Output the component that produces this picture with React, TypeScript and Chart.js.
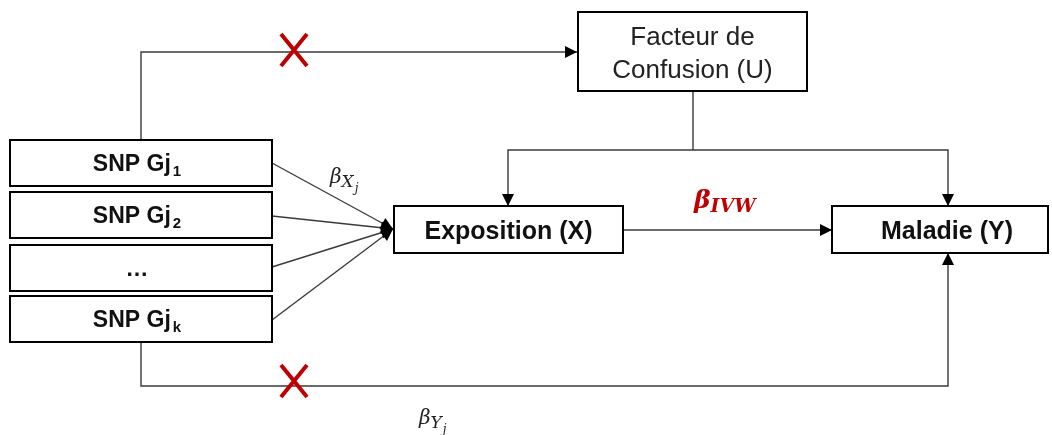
import React, { useEffect, useRef } from "react";
import { Chart, registerables } from "chart.js";

Chart.register(...registerables);

const W = 1052;
const H = 435;

// ---- diagram content ----
const snpLabels = ["SNP Gj", "SNP Gj", "…", "SNP Gj"];
const snpIndex = ["1", "2", "", "k"];
const snpRowY = [163, 215, 268, 319];
const exposureLabel = "Exposition (X)";
const outcomeLabel = "Maladie (Y)";
const confounderLines = ["Facteur de", "Confusion (U)"];

// ---- layout (box extents in diagram units) ----
const snpBox = { x0: 10, x1: 272, h: 46 };
const expBox = { x0: 394, x1: 623, y0: 206, y1: 253 };
const outBox = { x0: 832, x1: 1048, y0: 206, y1: 253 };
const confBox = { x0: 578, x1: 807, y0: 12, y1: 91 };

// connectors
const edgeXs: number[][] = [
  [141, 141, 577],
  [141, 141, 948, 948],
  [693, 508, 508],
  [693, 948, 948],
  [693, 693],
  [623, 832],
  [272, 393],
  [272, 393],
  [272, 393],
  [272, 393],
];
const edgeYs: number[][] = [
  [139, 52, 52],
  [342, 386, 386, 253],
  [150, 150, 206],
  [150, 150, 206],
  [91, 150],
  [230, 230],
  [163, 229],
  [216, 229],
  [267, 229],
  [320, 229],
];
const edgeArrow = [true, true, true, true, false, true, true, true, true, true];
const crossX = [294, 294];
const crossY = [50, 381];

const diagramPlugin = {
  id: "diagram",
  afterDatasetsDraw(chart: any) {
    const ctx: CanvasRenderingContext2D = chart.ctx;
    const sx = chart.scales.x;
    const sy = chart.scales.y;
    const px = (v: number) => sx.getPixelForValue(v);
    const py = (v: number) => sy.getPixelForValue(v);

    // arrowheads
    ctx.save();
    ctx.fillStyle = "#000";
    edgeXs.forEach((xs, i) => {
      if (!edgeArrow[i]) return;
      const n = xs.length;
      const x2 = px(xs[n - 1]);
      const y2 = py(edgeYs[i][n - 1]);
      const x1 = px(xs[n - 2]);
      const y1 = py(edgeYs[i][n - 2]);
      const a = Math.atan2(y2 - y1, x2 - x1);
      const L = 12;
      const hw = 6;
      ctx.beginPath();
      ctx.moveTo(x2, y2);
      ctx.lineTo(x2 - L * Math.cos(a) + hw * Math.sin(a), y2 - L * Math.sin(a) - hw * Math.cos(a));
      ctx.lineTo(x2 - L * Math.cos(a) - hw * Math.sin(a), y2 - L * Math.sin(a) + hw * Math.cos(a));
      ctx.closePath();
      ctx.fill();
    });
    ctx.restore();

    const box = (x0: number, y0: number, x1: number, y1: number) => {
      ctx.save();
      ctx.fillStyle = "#fff";
      ctx.strokeStyle = "#000";
      ctx.lineWidth = 2;
      const X0 = px(x0), Y0 = py(y0), X1 = px(x1), Y1 = py(y1);
      ctx.fillRect(X0, Y0, X1 - X0, Y1 - Y0);
      ctx.strokeRect(X0, Y0, X1 - X0, Y1 - Y0);
      ctx.restore();
    };

    // SNP boxes
    snpRowY.forEach((cy, i) => {
      box(snpBox.x0, cy - snpBox.h / 2, snpBox.x1, cy + snpBox.h / 2);
      ctx.save();
      ctx.fillStyle = "#111";
      ctx.textBaseline = "alphabetic";
      ctx.font = "bold 23px 'Liberation Sans', Arial, sans-serif";
      const main = snpLabels[i];
      const w1 = ctx.measureText(main).width;
      ctx.font = "bold 15px 'Liberation Sans', Arial, sans-serif";
      const w2 = snpIndex[i] ? ctx.measureText(snpIndex[i]).width + 2 : 0;
      const cx = px((snpBox.x0 + snpBox.x1) / 2) - 4;
      const start = cx - (w1 + w2) / 2;
      const base = py(cy) + 8;
      ctx.font = "bold 23px 'Liberation Sans', Arial, sans-serif";
      ctx.fillText(main, start, base);
      if (snpIndex[i]) {
        ctx.font = "bold 15px 'Liberation Sans', Arial, sans-serif";
        ctx.fillText(snpIndex[i], start + w1 + 2, base + 5);
      }
      ctx.restore();
    });

    const centered = (text: string, cx: number, base: number, font: string, color = "#111") => {
      ctx.save();
      ctx.font = font;
      ctx.fillStyle = color;
      ctx.textAlign = "center";
      ctx.textBaseline = "alphabetic";
      ctx.fillText(text, px(cx), py(base));
      ctx.restore();
    };

    box(expBox.x0, expBox.y0, expBox.x1, expBox.y1);
    centered(exposureLabel, (expBox.x0 + expBox.x1) / 2, 239, "bold 25px 'Liberation Sans', Arial, sans-serif");
    box(outBox.x0, outBox.y0, outBox.x1, outBox.y1);
    centered(outcomeLabel, (outBox.x0 + outBox.x1) / 2 + 7, 239, "bold 25px 'Liberation Sans', Arial, sans-serif");
    box(confBox.x0, confBox.y0, confBox.x1, confBox.y1);
    centered(confounderLines[0], (confBox.x0 + confBox.x1) / 2, 45, "26px 'Liberation Sans', Arial, sans-serif", "#222");
    centered(confounderLines[1], (confBox.x0 + confBox.x1) / 2, 78, "26px 'Liberation Sans', Arial, sans-serif", "#222");

    // red crosses
    ctx.save();
    ctx.strokeStyle = "#c00000";
    ctx.lineWidth = 4;
    crossX.forEach((cx, i) => {
      const X = px(cx), Y = py(crossY[i]);
      ctx.beginPath();
      ctx.moveTo(X - 13, Y - 16);
      ctx.lineTo(X + 13, Y + 16);
      ctx.moveTo(X + 13, Y - 16);
      ctx.lineTo(X - 13, Y + 16);
      ctx.stroke();
    });
    ctx.restore();

    // beta labels
    const beta = (x: number, base: number, sub: string, subsub: string, color: string, bold: boolean, size: number, subSize: number) => {
      ctx.save();
      ctx.fillStyle = color;
      ctx.textBaseline = "alphabetic";
      const w = bold ? "bold " : "";
      ctx.font = `italic ${w}${size}px 'DejaVu Serif', 'Liberation Serif', serif`;
      const X = px(x), B = py(base);
      ctx.fillText("β", X, B);
      const bw = ctx.measureText("β").width;
      ctx.font = `italic ${w}${subSize}px 'DejaVu Serif', 'Liberation Serif', serif`;
      ctx.fillText(sub, X + bw, B + 4);
      const sw = ctx.measureText(sub).width;
      if (subsub) {
        ctx.font = `italic ${w}${Math.round(subSize * 0.7)}px 'DejaVu Serif', 'Liberation Serif', serif`;
        ctx.fillText(subsub, X + bw + sw + 1, B + 9);
      }
      ctx.restore();
    };
    beta(330, 183, "X", "j", "#222", false, 20, 17);
    beta(419, 424, "Y", "j", "#222", false, 20, 17);
    beta(694, 208, "IVW", "", "#c00000", true, 25, 19);
  },
};

export default function App() {
  const ref = useRef<HTMLCanvasElement | null>(null);
  useEffect(() => {
    document.body.style.margin = "0";
    const canvas = ref.current;
    if (!canvas) return;
    const datasets = edgeXs.map((xs, i) => ({
      data: xs.map((x, j) => ({ x, y: edgeYs[i][j] })),
      showLine: true,
      borderColor: "#3a3a3a",
      borderWidth: 1.4,
      pointRadius: 0,
      pointHoverRadius: 0,
      fill: false,
      tension: 0,
      clip: false as any,
    }));
    const chart = new Chart(canvas, {
      type: "scatter",
      data: { datasets: datasets as any },
      options: {
        animation: false,
        responsive: false,
        devicePixelRatio: 1,
        layout: { padding: 0 },
        plugins: { legend: { display: false }, tooltip: { enabled: false } },
        events: [],
        scales: {
          x: { type: "linear", min: 0, max: W, display: false },
          y: { type: "linear", min: 0, max: H, reverse: true, display: false },
        },
      },
      plugins: [diagramPlugin],
    });
    return () => chart.destroy();
  }, []);
  return (
    <div style={{ width: W, height: H, background: "#fff" }}>
      <canvas ref={ref} width={W} height={H} style={{ display: "block" }} />
    </div>
  );
}
